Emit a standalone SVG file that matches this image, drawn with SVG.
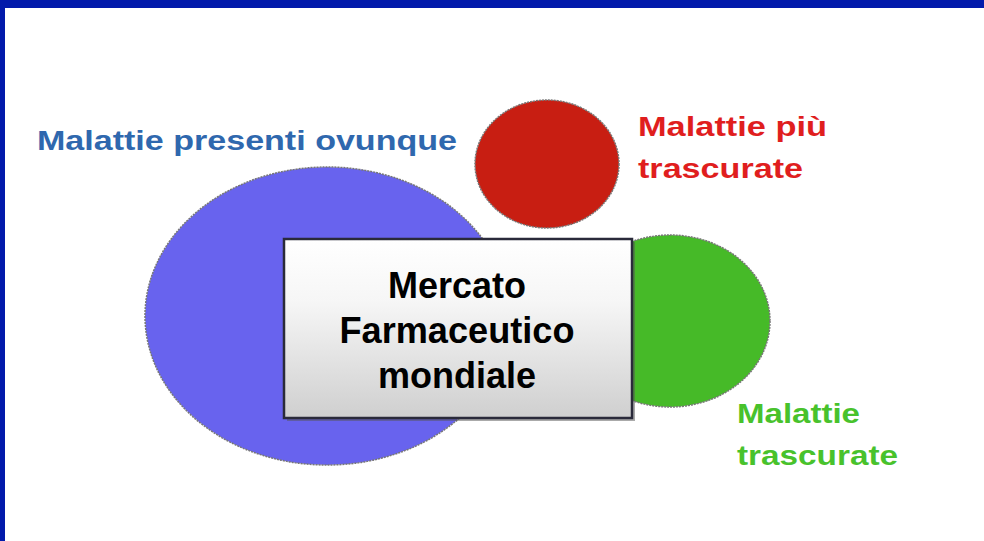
<svg xmlns="http://www.w3.org/2000/svg" width="984" height="541" viewBox="0 0 984 541">
<defs>
<linearGradient id="boxg" x1="0" y1="0" x2="0" y2="1">
<stop offset="0" stop-color="#ffffff"/>
<stop offset="0.35" stop-color="#f6f6f6"/>
<stop offset="1" stop-color="#cfcfcf"/>
</linearGradient>
<style>
.lbl{font-family:"Liberation Sans",Arial,sans-serif;font-weight:bold;font-size:28px}
.main{font-family:"Liberation Sans",Arial,sans-serif;font-weight:bold;font-size:36px;fill:#000;text-anchor:middle}
.shape{stroke:#777;stroke-width:1.5;stroke-dasharray:2 1}
</style>
</defs>
<rect x="0" y="0" width="984" height="541" fill="#ffffff"/>
<rect x="0" y="0" width="984" height="8" fill="#021aab"/>
<rect x="0" y="0" width="5" height="541" fill="#021aab"/>
<g id="connectors"></g>
<g id="blue">
<ellipse class="shape" cx="327" cy="316" rx="182" ry="149" fill="#6863ee"/>
</g>
<g id="red">
<ellipse class="shape" cx="547" cy="164" rx="72" ry="64" fill="#c81e12"/>
</g>
<g id="green">
<ellipse class="shape" cx="670" cy="321" rx="100" ry="86" fill="#46ba28"/>
</g>
<g id="box">
<rect x="287" y="242" width="348" height="179" fill="#555" opacity="0.5"/>
<rect x="284" y="239" width="348" height="179" fill="url(#boxg)" stroke="#2a2a3a" stroke-width="2.5"/>
<text class="main" x="457" y="298">Mercato</text>
<text class="main" x="457" y="343" textLength="235" lengthAdjust="spacingAndGlyphs">Farmaceutico</text>
<text class="main" x="457" y="388">mondiale</text>
</g>
<g id="label-blue">
<text class="lbl" x="37" y="150" fill="#2f68ae" textLength="420" lengthAdjust="spacingAndGlyphs">Malattie presenti ovunque</text>
</g>
<g id="label-red">
<text class="lbl" x="638" y="136" fill="#e01e1e" textLength="189" lengthAdjust="spacingAndGlyphs">Malattie più</text>
<text class="lbl" x="638" y="178" fill="#e01e1e" textLength="165" lengthAdjust="spacingAndGlyphs">trascurate</text>
</g>
<g id="label-green">
<text class="lbl" x="737" y="423" fill="#48c22c" textLength="123" lengthAdjust="spacingAndGlyphs">Malattie</text>
<text class="lbl" x="737" y="465" fill="#48c22c" textLength="161" lengthAdjust="spacingAndGlyphs">trascurate</text>
</g>
</svg>
